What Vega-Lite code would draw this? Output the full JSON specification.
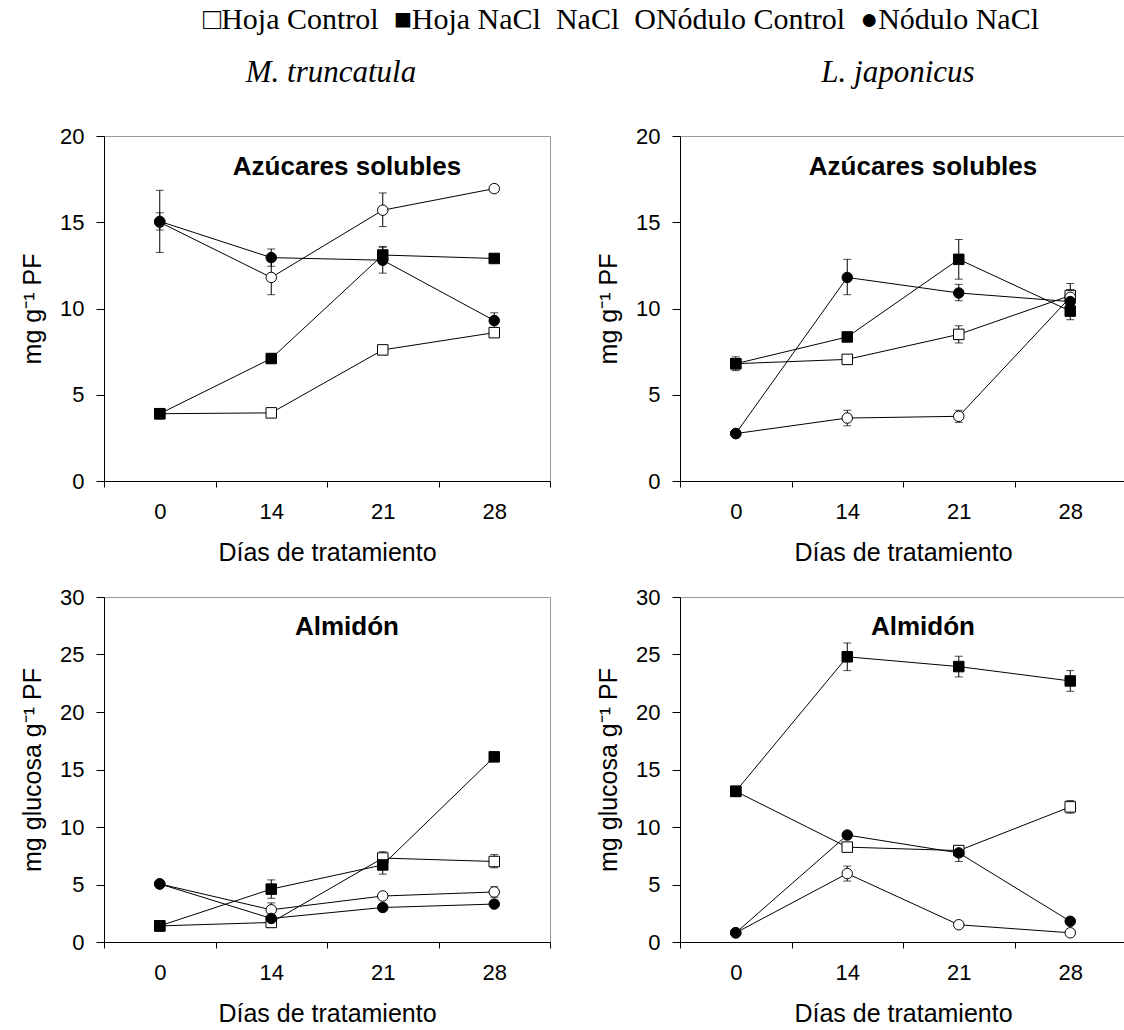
{
  "$schema": "https://vega.github.io/schema/vega-lite/v6.json",
  "background": "white",
  "padding": {"left": 20, "top": 4, "right": 0, "bottom": 0},
  "datasets": {
    "d": [
      {"panel": "TL", "dia": 0, "serie": "Hoja Control", "v": 3.9},
      {"panel": "TL", "dia": 14, "serie": "Hoja Control", "v": 3.95},
      {"panel": "TL", "dia": 21, "serie": "Hoja Control", "v": 7.6},
      {"panel": "TL", "dia": 28, "serie": "Hoja Control", "v": 8.6},
      {"panel": "TL", "dia": 0, "serie": "Hoja NaCl", "v": 3.9},
      {"panel": "TL", "dia": 14, "serie": "Hoja NaCl", "v": 7.1},
      {"panel": "TL", "dia": 21, "serie": "Hoja NaCl", "v": 13.1},
      {"panel": "TL", "dia": 28, "serie": "Hoja NaCl", "v": 12.9},
      {"panel": "TL", "dia": 0, "serie": "Nódulo Control", "v": 15.0},
      {"panel": "TL", "dia": 14, "serie": "Nódulo Control", "v": 11.8},
      {"panel": "TL", "dia": 21, "serie": "Nódulo Control", "v": 15.7},
      {"panel": "TL", "dia": 28, "serie": "Nódulo Control", "v": 16.95},
      {"panel": "TL", "dia": 0, "serie": "Nódulo NaCl", "v": 15.05},
      {"panel": "TL", "dia": 14, "serie": "Nódulo NaCl", "v": 12.95},
      {"panel": "TL", "dia": 21, "serie": "Nódulo NaCl", "v": 12.8},
      {"panel": "TL", "dia": 28, "serie": "Nódulo NaCl", "v": 9.3},

      {"panel": "TR", "dia": 0, "serie": "Hoja Control", "v": 6.8},
      {"panel": "TR", "dia": 14, "serie": "Hoja Control", "v": 7.05},
      {"panel": "TR", "dia": 21, "serie": "Hoja Control", "v": 8.5},
      {"panel": "TR", "dia": 28, "serie": "Hoja Control", "v": 10.75},
      {"panel": "TR", "dia": 0, "serie": "Hoja NaCl", "v": 6.8},
      {"panel": "TR", "dia": 14, "serie": "Hoja NaCl", "v": 8.35},
      {"panel": "TR", "dia": 21, "serie": "Hoja NaCl", "v": 12.85},
      {"panel": "TR", "dia": 28, "serie": "Hoja NaCl", "v": 9.85},
      {"panel": "TR", "dia": 0, "serie": "Nódulo Control", "v": 2.75},
      {"panel": "TR", "dia": 14, "serie": "Nódulo Control", "v": 3.65},
      {"panel": "TR", "dia": 21, "serie": "Nódulo Control", "v": 3.75},
      {"panel": "TR", "dia": 28, "serie": "Nódulo Control", "v": 10.65},
      {"panel": "TR", "dia": 0, "serie": "Nódulo NaCl", "v": 2.75},
      {"panel": "TR", "dia": 14, "serie": "Nódulo NaCl", "v": 11.8},
      {"panel": "TR", "dia": 21, "serie": "Nódulo NaCl", "v": 10.9},
      {"panel": "TR", "dia": 28, "serie": "Nódulo NaCl", "v": 10.4},

      {"panel": "BL", "dia": 0, "serie": "Hoja Control", "v": 1.4},
      {"panel": "BL", "dia": 14, "serie": "Hoja Control", "v": 1.7},
      {"panel": "BL", "dia": 21, "serie": "Hoja Control", "v": 7.3},
      {"panel": "BL", "dia": 28, "serie": "Hoja Control", "v": 7.0},
      {"panel": "BL", "dia": 0, "serie": "Hoja NaCl", "v": 1.4},
      {"panel": "BL", "dia": 14, "serie": "Hoja NaCl", "v": 4.6},
      {"panel": "BL", "dia": 21, "serie": "Hoja NaCl", "v": 6.7},
      {"panel": "BL", "dia": 28, "serie": "Hoja NaCl", "v": 16.1},
      {"panel": "BL", "dia": 0, "serie": "Nódulo Control", "v": 5.05},
      {"panel": "BL", "dia": 14, "serie": "Nódulo Control", "v": 2.8},
      {"panel": "BL", "dia": 21, "serie": "Nódulo Control", "v": 4.0},
      {"panel": "BL", "dia": 28, "serie": "Nódulo Control", "v": 4.35},
      {"panel": "BL", "dia": 0, "serie": "Nódulo NaCl", "v": 5.05},
      {"panel": "BL", "dia": 14, "serie": "Nódulo NaCl", "v": 2.05},
      {"panel": "BL", "dia": 21, "serie": "Nódulo NaCl", "v": 3.0},
      {"panel": "BL", "dia": 28, "serie": "Nódulo NaCl", "v": 3.3},

      {"panel": "BR", "dia": 0, "serie": "Hoja Control", "v": 13.1},
      {"panel": "BR", "dia": 14, "serie": "Hoja Control", "v": 8.25},
      {"panel": "BR", "dia": 21, "serie": "Hoja Control", "v": 7.95},
      {"panel": "BR", "dia": 28, "serie": "Hoja Control", "v": 11.75},
      {"panel": "BR", "dia": 0, "serie": "Hoja NaCl", "v": 13.1},
      {"panel": "BR", "dia": 14, "serie": "Hoja NaCl", "v": 24.8},
      {"panel": "BR", "dia": 21, "serie": "Hoja NaCl", "v": 23.95},
      {"panel": "BR", "dia": 28, "serie": "Hoja NaCl", "v": 22.7},
      {"panel": "BR", "dia": 0, "serie": "Nódulo Control", "v": 0.8},
      {"panel": "BR", "dia": 14, "serie": "Nódulo Control", "v": 5.95},
      {"panel": "BR", "dia": 21, "serie": "Nódulo Control", "v": 1.5},
      {"panel": "BR", "dia": 28, "serie": "Nódulo Control", "v": 0.8},
      {"panel": "BR", "dia": 0, "serie": "Nódulo NaCl", "v": 0.8},
      {"panel": "BR", "dia": 14, "serie": "Nódulo NaCl", "v": 9.3},
      {"panel": "BR", "dia": 21, "serie": "Nódulo NaCl", "v": 7.75},
      {"panel": "BR", "dia": 28, "serie": "Nódulo NaCl", "v": 1.8}
    ],
    "e": [
      {"panel": "TL", "dia": 0, "serie": "Nódulo Control", "lo": 13.25, "hi": 16.85},
      {"panel": "TL", "dia": 0, "serie": "Nódulo NaCl", "lo": 14.55, "hi": 15.55},
      {"panel": "TL", "dia": 14, "serie": "Nódulo Control", "lo": 10.8, "hi": 12.75},
      {"panel": "TL", "dia": 14, "serie": "Nódulo NaCl", "lo": 12.45, "hi": 13.45},
      {"panel": "TL", "dia": 21, "serie": "Nódulo Control", "lo": 14.75, "hi": 16.7},
      {"panel": "TL", "dia": 21, "serie": "Hoja NaCl", "lo": 12.6, "hi": 13.6},
      {"panel": "TL", "dia": 21, "serie": "Nódulo NaCl", "lo": 12.05, "hi": 13.55},
      {"panel": "TL", "dia": 28, "serie": "Nódulo Control", "lo": 16.75, "hi": 17.15},
      {"panel": "TL", "dia": 28, "serie": "Nódulo NaCl", "lo": 8.85, "hi": 9.75},

      {"panel": "TR", "dia": 0, "serie": "Hoja NaCl", "lo": 6.4, "hi": 7.2},
      {"panel": "TR", "dia": 14, "serie": "Nódulo NaCl", "lo": 10.8, "hi": 12.85},
      {"panel": "TR", "dia": 14, "serie": "Nódulo Control", "lo": 3.2, "hi": 4.1},
      {"panel": "TR", "dia": 21, "serie": "Hoja NaCl", "lo": 11.7, "hi": 14.0},
      {"panel": "TR", "dia": 21, "serie": "Nódulo NaCl", "lo": 10.45, "hi": 11.4},
      {"panel": "TR", "dia": 21, "serie": "Hoja Control", "lo": 8.0, "hi": 9.0},
      {"panel": "TR", "dia": 21, "serie": "Nódulo Control", "lo": 3.4, "hi": 4.1},
      {"panel": "TR", "dia": 28, "serie": "Nódulo NaCl", "lo": 10.0, "hi": 11.45},
      {"panel": "TR", "dia": 28, "serie": "Hoja NaCl", "lo": 9.35, "hi": 10.3},
      {"panel": "TR", "dia": 28, "serie": "Hoja Control", "lo": 10.35, "hi": 11.1},

      {"panel": "BL", "dia": 14, "serie": "Hoja NaCl", "lo": 3.8, "hi": 5.4},
      {"panel": "BL", "dia": 14, "serie": "Nódulo Control", "lo": 2.2, "hi": 3.4},
      {"panel": "BL", "dia": 21, "serie": "Hoja Control", "lo": 6.85, "hi": 7.85},
      {"panel": "BL", "dia": 21, "serie": "Hoja NaCl", "lo": 5.9, "hi": 7.4},
      {"panel": "BL", "dia": 28, "serie": "Hoja Control", "lo": 6.45, "hi": 7.6},
      {"panel": "BL", "dia": 28, "serie": "Nódulo Control", "lo": 3.9, "hi": 4.8},

      {"panel": "BR", "dia": 14, "serie": "Hoja NaCl", "lo": 23.6, "hi": 26.0},
      {"panel": "BR", "dia": 21, "serie": "Hoja NaCl", "lo": 23.05, "hi": 24.85},
      {"panel": "BR", "dia": 28, "serie": "Hoja NaCl", "lo": 21.8, "hi": 23.6},
      {"panel": "BR", "dia": 28, "serie": "Hoja Control", "lo": 11.2, "hi": 12.3},
      {"panel": "BR", "dia": 21, "serie": "Hoja Control", "lo": 7.6, "hi": 8.3},
      {"panel": "BR", "dia": 21, "serie": "Nódulo NaCl", "lo": 7.0, "hi": 8.2},
      {"panel": "BR", "dia": 14, "serie": "Nódulo Control", "lo": 5.3, "hi": 6.6},
      {"panel": "BR", "dia": 14, "serie": "Nódulo NaCl", "lo": 9.0, "hi": 9.6}
    ],
    "lab": [
      {"panel": "TL", "dia": 21, "label": "Azúcares solubles", "v": 18.2},
      {"panel": "TR", "dia": 21, "label": "Azúcares solubles", "v": 18.2},
      {"panel": "BL", "dia": 21, "label": "Almidón", "v": 27.4},
      {"panel": "BR", "dia": 21, "label": "Almidón", "v": 27.4}
    ]
  },
  "title": {
    "text": "□Hoja Control\u00a0\u00a0■Hoja NaCl\u00a0\u00a0NaCl\u00a0\u00a0ONódulo Control\u00a0\u00a0●Nódulo NaCl",
    "font": "Liberation Serif", "fontSize": 30, "fontWeight": "normal", "color": "black",
    "anchor": "start", "dx": 183, "offset": 22
  },
  "config": {
    "view": {"stroke": "#999999", "strokeWidth": 1},
    "axis": {
      "labelFont": "Liberation Sans", "titleFont": "Liberation Sans",
      "labelFontSize": 22, "titleFontSize": 25, "titleFontWeight": "normal",
      "labelColor": "black", "titleColor": "black",
      "domainColor": "black", "tickColor": "black", "grid": false,
      "domainWidth": 1, "tickWidth": 1
    },
    "axisX": {"tickSize": 6, "labelPadding": 14, "titlePadding": 18, "labelAngle": 0},
    "axisY": {"tickSize": 8, "labelPadding": 12, "titlePadding": 14},
    "title": {"color": "black"}
  },
  "spacing": 19,
  "vconcat": [
    {
      "spacing": 45,
      "hconcat": [
        {
          "width": 446, "height": 345,
          "title": {"text": "M. truncatula", "font": "Liberation Serif", "fontStyle": "italic", "fontSize": 31, "fontWeight": "normal", "frame": "group", "anchor": "middle", "offset": 36, "dx": 4},
          "data": {"name": "d"},
          "transform": [{"filter": "datum.panel === 'TL'"}],
          "encoding": {
            "x": {"field": "dia", "type": "ordinal", "scale": {"paddingInner": 0, "paddingOuter": 0}, "axis": {"title": "Días de tratamiento", "tickBand": "extent"}},
            "y": {"field": "v", "type": "quantitative", "scale": {"domain": [0, 20]}, "axis": {"title": "mg g⁻¹ PF", "values": [0, 5, 10, 15, 20]}}
          },
          "layer": [
            {"mark": {"type": "line", "color": "black", "strokeWidth": 1}, "encoding": {"detail": {"field": "serie"}}},
            {"data": {"name": "e"}, "transform": [{"filter": "datum.panel === 'TL'"}], "mark": {"type": "rule", "color": "black", "strokeWidth": 1}, "encoding": {"y": {"field": "lo", "type": "quantitative", "title": "mg g⁻¹ PF"}, "y2": {"field": "hi"}}},
            {"data": {"name": "e"}, "transform": [{"filter": "datum.panel === 'TL'"}], "mark": {"type": "tick", "color": "black", "size": 8, "thickness": 1, "orient": "horizontal"}, "encoding": {"y": {"field": "lo", "type": "quantitative", "title": "mg g⁻¹ PF"}}},
            {"data": {"name": "e"}, "transform": [{"filter": "datum.panel === 'TL'"}], "mark": {"type": "tick", "color": "black", "size": 8, "thickness": 1, "orient": "horizontal"}, "encoding": {"y": {"field": "hi", "type": "quantitative", "title": "mg g⁻¹ PF"}}},
            {"mark": {"type": "point", "filled": true, "stroke": "black", "strokeWidth": 1, "opacity": 1, "size": 110},
             "encoding": {
               "shape": {"field": "serie", "type": "nominal", "scale": {"domain": ["Hoja Control", "Hoja NaCl", "Nódulo Control", "Nódulo NaCl"], "range": ["square", "square", "circle", "circle"]}, "legend": null},
               "fill": {"field": "serie", "type": "nominal", "scale": {"domain": ["Hoja Control", "Hoja NaCl", "Nódulo Control", "Nódulo NaCl"], "range": ["white", "black", "white", "black"]}, "legend": null}
             }},
            {"data": {"name": "lab"}, "transform": [{"filter": "datum.panel === 'TL'"}], "mark": {"type": "text", "font": "Liberation Sans", "fontWeight": "bold", "fontSize": 26, "color": "black", "baseline": "middle", "align": "center", "dx": 20},
             "encoding": {"x": {"field": "dia", "type": "ordinal", "bandPosition": 0}, "text": {"field": "label"}}}
          ]
        },
        {
          "width": 446, "height": 345,
          "title": {"text": "L. japonicus", "font": "Liberation Serif", "fontStyle": "italic", "fontSize": 31, "fontWeight": "normal", "frame": "group", "anchor": "middle", "offset": 36, "dx": -5},
          "data": {"name": "d"},
          "transform": [{"filter": "datum.panel === 'TR'"}],
          "encoding": {
            "x": {"field": "dia", "type": "ordinal", "scale": {"paddingInner": 0, "paddingOuter": 0}, "axis": {"title": "Días de tratamiento", "tickBand": "extent"}},
            "y": {"field": "v", "type": "quantitative", "scale": {"domain": [0, 20]}, "axis": {"title": "mg g⁻¹ PF", "values": [0, 5, 10, 15, 20]}}
          },
          "layer": [
            {"mark": {"type": "line", "color": "black", "strokeWidth": 1}, "encoding": {"detail": {"field": "serie"}}},
            {"data": {"name": "e"}, "transform": [{"filter": "datum.panel === 'TR'"}], "mark": {"type": "rule", "color": "black", "strokeWidth": 1}, "encoding": {"y": {"field": "lo", "type": "quantitative", "title": "mg g⁻¹ PF"}, "y2": {"field": "hi"}}},
            {"data": {"name": "e"}, "transform": [{"filter": "datum.panel === 'TR'"}], "mark": {"type": "tick", "color": "black", "size": 8, "thickness": 1, "orient": "horizontal"}, "encoding": {"y": {"field": "lo", "type": "quantitative", "title": "mg g⁻¹ PF"}}},
            {"data": {"name": "e"}, "transform": [{"filter": "datum.panel === 'TR'"}], "mark": {"type": "tick", "color": "black", "size": 8, "thickness": 1, "orient": "horizontal"}, "encoding": {"y": {"field": "hi", "type": "quantitative", "title": "mg g⁻¹ PF"}}},
            {"mark": {"type": "point", "filled": true, "stroke": "black", "strokeWidth": 1, "opacity": 1, "size": 110},
             "encoding": {
               "shape": {"field": "serie", "type": "nominal", "scale": {"domain": ["Hoja Control", "Hoja NaCl", "Nódulo Control", "Nódulo NaCl"], "range": ["square", "square", "circle", "circle"]}, "legend": null},
               "fill": {"field": "serie", "type": "nominal", "scale": {"domain": ["Hoja Control", "Hoja NaCl", "Nódulo Control", "Nódulo NaCl"], "range": ["white", "black", "white", "black"]}, "legend": null}
             }},
            {"data": {"name": "lab"}, "transform": [{"filter": "datum.panel === 'TR'"}], "mark": {"type": "text", "font": "Liberation Sans", "fontWeight": "bold", "fontSize": 26, "color": "black", "baseline": "middle", "align": "center", "dx": 20},
             "encoding": {"x": {"field": "dia", "type": "ordinal", "bandPosition": 0}, "text": {"field": "label"}}}
          ]
        }
      ]
    },
    {
      "spacing": 45,
      "hconcat": [
        {
          "width": 446, "height": 345,
          "data": {"name": "d"},
          "transform": [{"filter": "datum.panel === 'BL'"}],
          "encoding": {
            "x": {"field": "dia", "type": "ordinal", "scale": {"paddingInner": 0, "paddingOuter": 0}, "axis": {"title": "Días de tratamiento", "tickBand": "extent"}},
            "y": {"field": "v", "type": "quantitative", "scale": {"domain": [0, 30]}, "axis": {"title": "mg glucosa g⁻¹ PF", "values": [0, 5, 10, 15, 20, 25, 30]}}
          },
          "layer": [
            {"mark": {"type": "line", "color": "black", "strokeWidth": 1}, "encoding": {"detail": {"field": "serie"}}},
            {"data": {"name": "e"}, "transform": [{"filter": "datum.panel === 'BL'"}], "mark": {"type": "rule", "color": "black", "strokeWidth": 1}, "encoding": {"y": {"field": "lo", "type": "quantitative", "title": "mg glucosa g⁻¹ PF"}, "y2": {"field": "hi"}}},
            {"data": {"name": "e"}, "transform": [{"filter": "datum.panel === 'BL'"}], "mark": {"type": "tick", "color": "black", "size": 8, "thickness": 1, "orient": "horizontal"}, "encoding": {"y": {"field": "lo", "type": "quantitative", "title": "mg glucosa g⁻¹ PF"}}},
            {"data": {"name": "e"}, "transform": [{"filter": "datum.panel === 'BL'"}], "mark": {"type": "tick", "color": "black", "size": 8, "thickness": 1, "orient": "horizontal"}, "encoding": {"y": {"field": "hi", "type": "quantitative", "title": "mg glucosa g⁻¹ PF"}}},
            {"mark": {"type": "point", "filled": true, "stroke": "black", "strokeWidth": 1, "opacity": 1, "size": 110},
             "encoding": {
               "shape": {"field": "serie", "type": "nominal", "scale": {"domain": ["Hoja Control", "Hoja NaCl", "Nódulo Control", "Nódulo NaCl"], "range": ["square", "square", "circle", "circle"]}, "legend": null},
               "fill": {"field": "serie", "type": "nominal", "scale": {"domain": ["Hoja Control", "Hoja NaCl", "Nódulo Control", "Nódulo NaCl"], "range": ["white", "black", "white", "black"]}, "legend": null}
             }},
            {"data": {"name": "lab"}, "transform": [{"filter": "datum.panel === 'BL'"}], "mark": {"type": "text", "font": "Liberation Sans", "fontWeight": "bold", "fontSize": 26, "color": "black", "baseline": "middle", "align": "center", "dx": 20},
             "encoding": {"x": {"field": "dia", "type": "ordinal", "bandPosition": 0}, "text": {"field": "label"}}}
          ]
        },
        {
          "width": 446, "height": 345,
          "data": {"name": "d"},
          "transform": [{"filter": "datum.panel === 'BR'"}],
          "encoding": {
            "x": {"field": "dia", "type": "ordinal", "scale": {"paddingInner": 0, "paddingOuter": 0}, "axis": {"title": "Días de tratamiento", "tickBand": "extent"}},
            "y": {"field": "v", "type": "quantitative", "scale": {"domain": [0, 30]}, "axis": {"title": "mg glucosa g⁻¹ PF", "values": [0, 5, 10, 15, 20, 25, 30]}}
          },
          "layer": [
            {"mark": {"type": "line", "color": "black", "strokeWidth": 1}, "encoding": {"detail": {"field": "serie"}}},
            {"data": {"name": "e"}, "transform": [{"filter": "datum.panel === 'BR'"}], "mark": {"type": "rule", "color": "black", "strokeWidth": 1}, "encoding": {"y": {"field": "lo", "type": "quantitative", "title": "mg glucosa g⁻¹ PF"}, "y2": {"field": "hi"}}},
            {"data": {"name": "e"}, "transform": [{"filter": "datum.panel === 'BR'"}], "mark": {"type": "tick", "color": "black", "size": 8, "thickness": 1, "orient": "horizontal"}, "encoding": {"y": {"field": "lo", "type": "quantitative", "title": "mg glucosa g⁻¹ PF"}}},
            {"data": {"name": "e"}, "transform": [{"filter": "datum.panel === 'BR'"}], "mark": {"type": "tick", "color": "black", "size": 8, "thickness": 1, "orient": "horizontal"}, "encoding": {"y": {"field": "hi", "type": "quantitative", "title": "mg glucosa g⁻¹ PF"}}},
            {"mark": {"type": "point", "filled": true, "stroke": "black", "strokeWidth": 1, "opacity": 1, "size": 110},
             "encoding": {
               "shape": {"field": "serie", "type": "nominal", "scale": {"domain": ["Hoja Control", "Hoja NaCl", "Nódulo Control", "Nódulo NaCl"], "range": ["square", "square", "circle", "circle"]}, "legend": null},
               "fill": {"field": "serie", "type": "nominal", "scale": {"domain": ["Hoja Control", "Hoja NaCl", "Nódulo Control", "Nódulo NaCl"], "range": ["white", "black", "white", "black"]}, "legend": null}
             }},
            {"data": {"name": "lab"}, "transform": [{"filter": "datum.panel === 'BR'"}], "mark": {"type": "text", "font": "Liberation Sans", "fontWeight": "bold", "fontSize": 26, "color": "black", "baseline": "middle", "align": "center", "dx": 20},
             "encoding": {"x": {"field": "dia", "type": "ordinal", "bandPosition": 0}, "text": {"field": "label"}}}
          ]
        }
      ]
    }
  ]
}
